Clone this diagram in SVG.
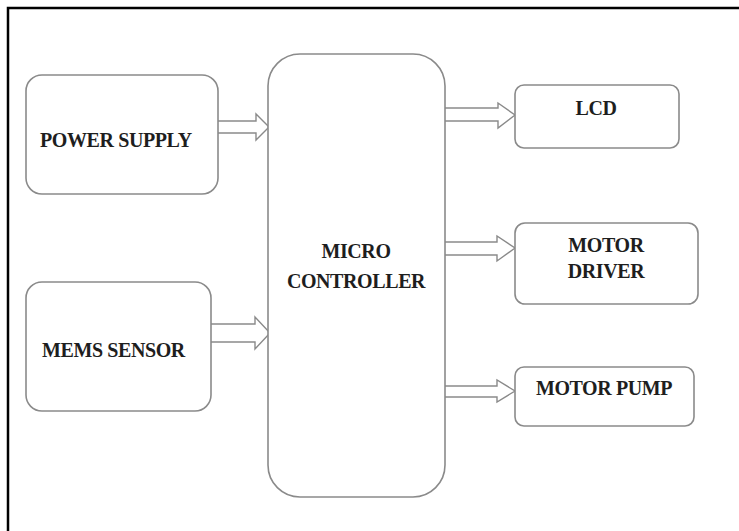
<svg xmlns="http://www.w3.org/2000/svg" width="739" height="531" viewBox="0 0 739 531">
<style>
.box{fill:#fff;stroke:#8a8a8a;stroke-width:1.6}
.arr{fill:#fff;stroke:#8a8a8a;stroke-width:1.4;stroke-linejoin:miter}
.lbl{font-family:"Liberation Serif","Times New Roman",serif;font-weight:bold;font-size:20px;letter-spacing:-0.4px;fill:#1e1e1e}
.c{text-anchor:middle}
</style>
<rect x="0" y="0" width="739" height="531" fill="#fff"/>
<path d="M8,531 V8 H739" fill="none" stroke="#000" stroke-width="2.5"/>
<g id="connectors">
<polyline class="arr" points="218,121 256,121 256,114 269,127 256,140 256,133 218,133"/>
<polyline class="arr" points="211,324 255,324 255,317 270,333 255,349 255,342 211,342"/>
<polyline class="arr" points="445,108 498,108 498,103 515,115 498,128 498,121 445,121"/>
<polyline class="arr" points="445,242 497,242 497,236 515,248 497,261 497,255 445,255"/>
<polyline class="arr" points="445,386 497,386 497,380 515,391 497,402 497,397 445,397"/>
</g>
<g id="power-supply">
<rect class="box" x="26" y="75" width="192" height="119" rx="16"/>
<text class="lbl" x="40" y="147">POWER SUPPLY</text>
</g>
<g id="mems-sensor">
<rect class="box" x="26" y="282" width="185" height="129" rx="16"/>
<text class="lbl" x="42" y="357">MEMS SENSOR</text>
</g>
<g id="micro-controller">
<rect class="box" x="268" y="54" width="177" height="443" rx="32"/>
<text class="lbl c" x="356" y="258">MICRO</text>
<text class="lbl c" x="356" y="288">CONTROLLER</text>
</g>
<g id="lcd">
<rect class="box" x="515" y="85" width="164" height="63" rx="9"/>
<text class="lbl c" x="596" y="115">LCD</text>
</g>
<g id="motor-driver">
<rect class="box" x="515" y="223" width="183" height="81" rx="10"/>
<text class="lbl c" x="606" y="252">MOTOR</text>
<text class="lbl c" x="606" y="278">DRIVER</text>
</g>
<g id="motor-pump">
<rect class="box" x="515" y="367" width="179" height="59" rx="9"/>
<text class="lbl c" x="604" y="395">MOTOR PUMP</text>
</g>
</svg>
